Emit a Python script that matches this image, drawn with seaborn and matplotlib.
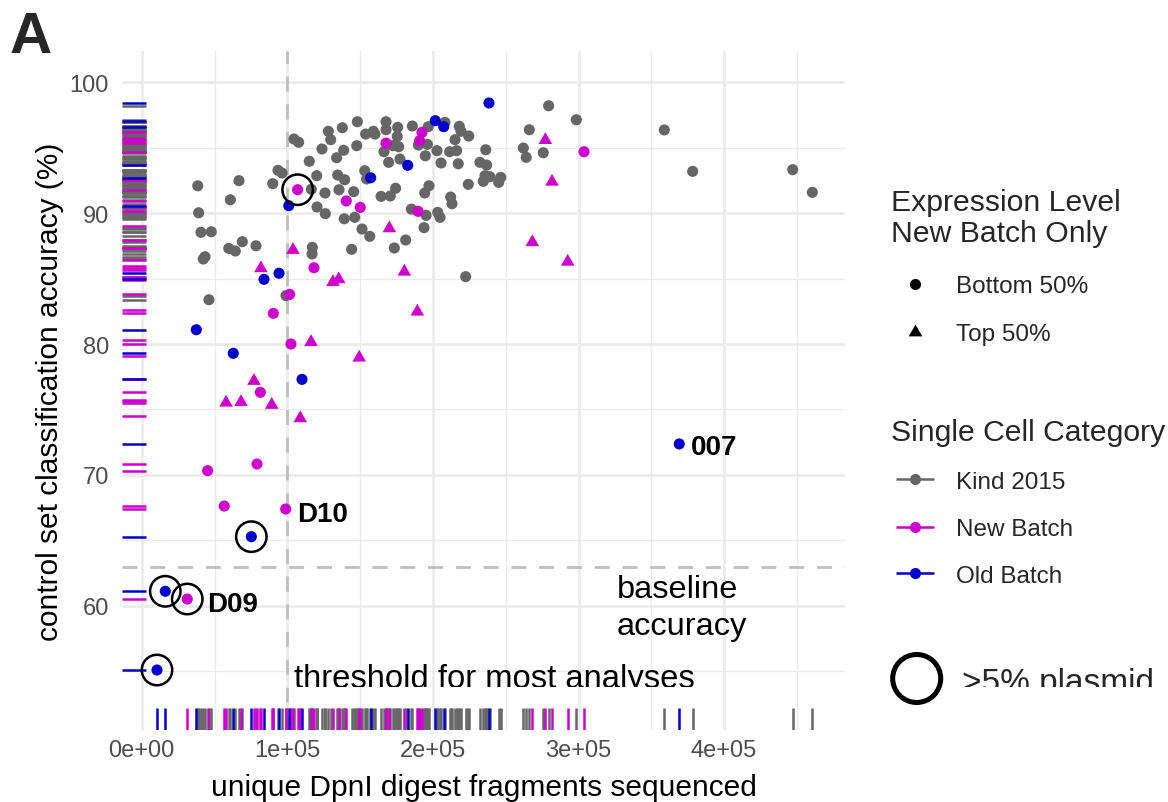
import matplotlib
matplotlib.use("Agg")
import matplotlib.pyplot as plt
import seaborn as sns
import pandas as pd
from matplotlib.transforms import Bbox

# ---------------- data ----------------
kind_frag = [148100, 167800, 128200, 137800, 129800, 167800, 175800, 185900, 208300, 218100,
             219300, 224600, 153800, 159100, 160200, 175500, 147700, 172600, 176500, 166400,
             190000, 196200, 202800, 215200, 211500, 216300, 236300, 194800, 123800, 138700,
             133900, 104600, 107800, 115100, 169600, 177400, 205600, 217400, 232300, 153200,
             154500, 235800, 234600, 93600, 96400, 120200, 134600, 139400, 66800, 38500,
             90000, 116500, 125900, 135500, 145600, 164400, 170700, 174400, 194400, 197300,
             212200, 213100, 224300, 60900, 120400, 126100, 139100, 146300, 185200, 195300,
             203300, 204900, 39100, 151300, 156600, 193900, 40700, 47800, 181300, 173500,
             59800, 64300, 69100, 78500, 117200, 117000, 144200, 42300, 43500, 222500,
             99100, 46200, 279500, 298500, 266200, 358900, 262100, 264100, 275800, 378400,
             447100, 460600, 236900, 239200, 245200, 246600, 196800]
kind_acc = [96.97, 96.97, 96.24, 96.51, 95.60, 96.36, 96.54, 96.64, 96.92, 96.62,
            96.24, 95.88, 96.03, 96.24, 96.03, 95.85, 95.14, 95.14, 95.06, 94.68,
            95.19, 95.24, 94.76, 95.60, 94.68, 94.76, 94.83, 94.37, 94.89, 94.79,
            94.22, 95.65, 95.40, 93.95, 93.87, 94.12, 93.82, 93.76, 93.87, 93.23,
            92.60, 92.85, 92.42, 93.26, 93.05, 92.85, 92.90, 92.54, 92.47, 92.08,
            92.24, 91.81, 91.53, 91.78, 91.63, 91.27, 91.30, 91.89, 91.53, 92.08,
            91.22, 90.71, 92.19, 91.01, 90.46, 89.95, 89.56, 89.67, 90.30, 89.82,
            90.05, 89.67, 90.02, 88.78, 88.22, 88.88, 88.53, 88.57, 87.94, 87.33,
            87.30, 87.10, 87.81, 87.50, 87.38, 86.87, 87.23, 86.49, 86.66, 85.14,
            83.69, 83.38, 98.19, 97.12, 96.36, 96.34, 94.96, 94.25, 94.60, 93.18,
            93.31, 91.58, 93.66, 92.77, 92.34, 92.72, 96.59]

new_frag = [192500, 190900, 167800, 107100, 140500, 150100, 189800, 118300, 101600, 90400,
            303800, 102500, 81500, 45300, 79200, 56700, 98900, 31300,
            170100, 103900, 81900, 180400, 131400, 135300, 189300, 116300, 277200, 281800,
            268300, 292600, 149400, 77100, 57900, 68200, 89300, 108900]
new_acc = [96.16, 95.52, 95.34, 91.78, 90.92, 90.43, 90.13, 85.82, 83.79, 82.34,
           94.68, 80.00, 76.31, 70.33, 70.84, 67.63, 67.40, 60.53,
           88.98, 87.33, 85.93, 85.67, 84.88, 85.09, 82.62, 80.30, 95.72, 92.54,
           87.92, 86.43, 79.11, 77.33, 75.67, 75.72, 75.50, 74.48]
new_expr = ["Bottom 50%", "Bottom 50%", "Bottom 50%", "Bottom 50%", "Bottom 50%", "Bottom 50%",
            "Bottom 50%", "Bottom 50%", "Bottom 50%", "Bottom 50%", "Bottom 50%", "Bottom 50%",
            "Bottom 50%", "Bottom 50%", "Bottom 50%", "Bottom 50%", "Bottom 50%", "Bottom 50%",
            "Top 50%", "Top 50%", "Top 50%", "Top 50%", "Top 50%", "Top 50%",
            "Top 50%", "Top 50%", "Top 50%", "Top 50%", "Top 50%", "Top 50%",
            "Top 50%", "Top 50%", "Top 50%", "Top 50%", "Top 50%", "Top 50%"]
new_plasmid = [False, False, False, True, False, False, False, False, False, False,
               False, False, False, False, False, False, False, True,
               False, False, False, False, False, False, False, False, False, False,
               False, False, False, False, False, False, False, False]
new_name = ["", "", "", "", "", "", "", "", "", "", "", "", "", "", "", "", "D10", "D09",
            "", "", "", "", "", "", "", "", "", "", "", "", "", "", "", "", "", ""]

old_frag = [238500, 201600, 207400, 182700, 157300, 101000, 84000, 94300, 37500, 62900,
            110100, 369200, 75300, 16200, 10500]
old_acc = [98.40, 97.05, 96.59, 93.64, 92.69, 90.56, 84.94, 85.40, 81.09, 79.29,
           77.30, 72.37, 65.29, 61.12, 55.11]
old_plasmid = [False, False, False, False, False, False, False, False, False, False,
               False, False, True, True, True]
old_name = ["", "", "", "", "", "", "", "", "", "", "", "007", "", "", ""]

categories = ["Kind 2015", "New Batch", "Old Batch"]
expr_levels = ["Bottom 50%", "Top 50%"]
read_threshold = 100000
baseline_accuracy = 63
x_ticks = [0, 100000, 200000, 300000, 400000]
x_tick_labels = ["0e+00", "1e+05", "2e+05", "3e+05", "4e+05"]
x_minor = [50000, 150000, 250000, 350000, 450000]
y_ticks = [60, 70, 80, 90, 100]
y_minor = [55, 65, 75, 85, 95]

# ---------------- styling ----------------
sns.set_theme(style="white")
plt.rcParams['font.family'] = ['Liberation Sans', 'DejaVu Sans']

palette = {"Kind 2015": "#666666", "New Batch": "#CD00CD", "Old Batch": "#0000CD"}
TRI = [(-0.577, -0.5), (0.577, -0.5), (0.0, 0.5)]
markers = {"NA": "o", "Bottom 50%": "o", "Top 50%": TRI}
sizes = {"NA": 64, "Bottom 50%": 64, "Top 50%": 96}

df = pd.concat([
    pd.DataFrame({"frag": kind_frag, "acc": kind_acc, "category": categories[0],
                  "expr": "NA", "plasmid": False, "name": ""}),
    pd.DataFrame({"frag": new_frag, "acc": new_acc, "category": categories[1],
                  "expr": new_expr, "plasmid": new_plasmid, "name": new_name}),
    pd.DataFrame({"frag": old_frag, "acc": old_acc, "category": categories[2],
                  "expr": "NA", "plasmid": old_plasmid, "name": old_name}),
], ignore_index=True)

W, H = 1168, 803
L, R, T, B = 122, 845, 52, 731
fig = plt.figure(figsize=(W / 100, H / 100), dpi=100)
fig.patch.set_facecolor("white")
ax = fig.add_axes([L / W, 1 - B / H, (R - L) / W, (B - T) / H])

# rugs
sns.rugplot(data=df, x="frag", hue="category", palette=palette, hue_order=categories,
            height=0.033, linewidth=1.8, ax=ax, legend=False, zorder=2)
sns.rugplot(data=df, y="acc", hue="category", palette=palette, hue_order=categories,
            height=0.033, linewidth=1.8, ax=ax, legend=False, zorder=2)

# threshold lines
ax.axvline(read_threshold, color="#BEBEBE", lw=2.0, ls=(0, (5.4, 4.6)), zorder=1.5)
ax.axhline(baseline_accuracy, color="#BEBEBE", lw=2.0, ls=(0, (5.4, 4.6)), zorder=1.5)

# points
sns.scatterplot(data=df, x="frag", y="acc", hue="category", palette=palette,
                hue_order=categories, style="expr", markers=markers,
                size="expr", sizes=sizes, linewidth=0, legend=False, ax=ax, zorder=3)

# >5% plasmid rings
sns.scatterplot(data=df[df["plasmid"]], x="frag", y="acc", marker="o", s=480,
                facecolor="none", edgecolor="black", linewidth=1.8,
                legend=False, ax=ax, zorder=4)

# point labels
label_offsets = {"D10": (8.2, -8.4), "D09": (14.0, -8.4), "007": (8.2, -7.2)}
for _, row in df[df["name"] != ""].iterrows():
    dx, dy = label_offsets[row["name"]]
    ax.annotate(row["name"], xy=(row["frag"], row["acc"]), xytext=(dx, dy),
                textcoords="offset points", ha="left", va="baseline",
                fontsize=20, fontweight="bold", color="black", zorder=5)

# axes cosmetics
ax.set_xlim(-13530, 483030)
ax.set_ylim(50.53, 102.37)
ax.set_xticks(x_ticks)
ax.set_xticklabels(x_tick_labels)
ax.set_xticks(x_minor, minor=True)
ax.set_yticks(y_ticks)
ax.set_yticklabels([str(v) for v in y_ticks])
ax.set_yticks(y_minor, minor=True)
ax.tick_params(which="both", length=0)
ax.tick_params(axis="x", pad=6.8, labelsize=17, labelcolor="#4D4D4D")
ax.tick_params(axis="y", pad=9.4, labelsize=17, labelcolor="#4D4D4D")
ax.grid(which="major", color="#EBEBEB", linewidth=1.9)
ax.grid(which="minor", color="#EBEBEB", linewidth=1.0)
ax.set_axisbelow(True)
for s in ax.spines.values():
    s.set_visible(False)

ax.set_xlabel("unique DpnI digest fragments sequenced", fontsize=21.5, color="black")
ax.xaxis.label.set_va("center")
ax.xaxis.set_label_coords(0.5, (B - 788) / (B - T))
ax.set_ylabel("control set classification accuracy (%)", fontsize=21.5, color="black")
ax.yaxis.label.set_rotation_mode("default")
ax.yaxis.label.set_va("center")
ax.yaxis.label.set_ha("center")
ax.yaxis.set_label_coords((50 - L) / (R - L), 0.5)

clip = Bbox([[0, H - 687.5], [W, H]])
t1 = ax.text(104800, 53.81, "threshold for most analyses", ha="left", va="baseline",
             fontsize=23.6, color="black", zorder=5)
t1.set_clip_on(True)
t1.set_clip_box(clip)
ax.text(326200, 60.66, "baseline", ha="left", va="baseline", fontsize=23.4, color="black", zorder=5)
ax.text(326200, 57.86, "accuracy", ha="left", va="baseline", fontsize=23.4, color="black", zorder=5)

# panel tag
fig.text(10 / W, 1 - 53 / H, "A", fontsize=42, fontweight="bold", ha="left", va="baseline")

# ---------------- legend (drawn in figure pixel space) ----------------
lax = fig.add_axes([0, 0, 1, 1])
lax.set_xlim(0, W)
lax.set_ylim(H, 0)
lax.set_axis_off()
lax.patch.set_alpha(0)

lax.text(891, 210.7, "Expression Level", fontsize=21.7, va="baseline", ha="left")
lax.text(891, 242.4, "New Batch Only", fontsize=21.7, va="baseline", ha="left")
for lvl, yc, yb in zip(expr_levels, [285.0, 331.0], [293.4, 340.7]):
    lax.scatter([915], [yc], s=sizes[lvl], marker=markers[lvl], color="black", linewidths=0)
    lax.text(955.5, yb, lvl, fontsize=17.5, va="baseline", ha="left")

lax.text(891, 440.7, "Single Cell Category", fontsize=21.7, va="baseline", ha="left")
for cat, yc, yb in zip(categories, [480.3, 527.6, 574.0], [489.0, 536.2, 582.8]):
    lax.plot([896, 934], [yc, yc], color=palette[cat], lw=1.8, solid_capstyle="butt")
    lax.scatter([915], [yc], s=64, color=palette[cat], linewidths=0, zorder=3)
    lax.text(955.5, yb, cat, fontsize=17.5, va="baseline", ha="left")

lax.scatter([916.7], [679.5], s=1195, marker="o", facecolors="none",
            edgecolors="black", linewidths=3.6)
t2 = lax.text(961.7, 692, ">5% plasmid", fontsize=24, va="baseline", ha="left")
t2.set_clip_on(True)
t2.set_clip_box(clip)

fig.savefig("out.png", dpi=100)
